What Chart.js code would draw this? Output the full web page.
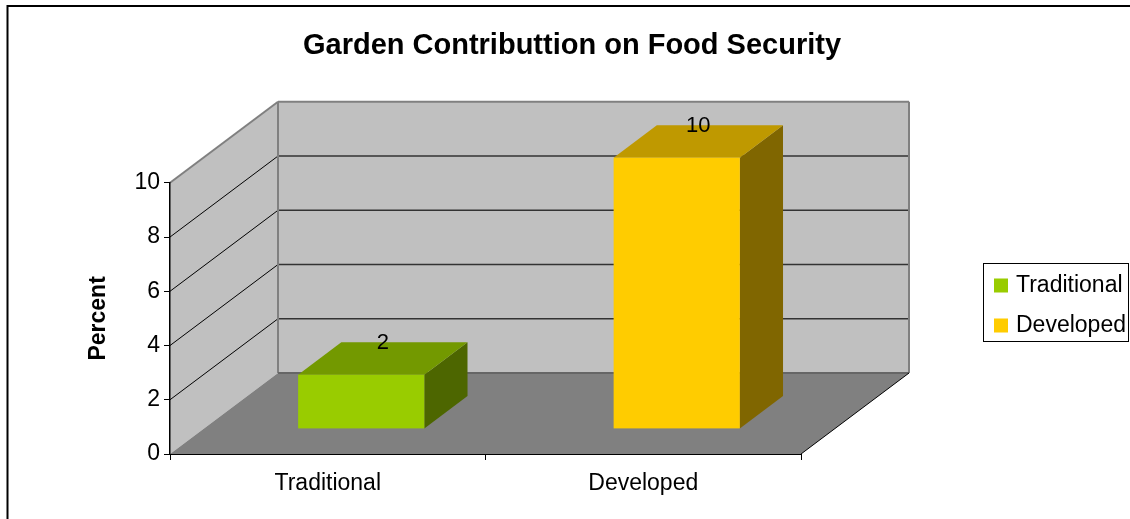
<!DOCTYPE html>
<html lang="en">
<head>
    <meta charset="UTF-8">
    <title>Garden Contributtion on Food Security</title>
    <script src="https://cdn.jsdelivr.net/npm/chart.js"></script>
    <style>
        body { margin: 0; background: #fff; }
        .box_chart { width: 1130px; height: 519px; }
    </style>
</head>
<body>
    <div class="box_chart">
        <canvas id="gardenChart" width="1130" height="519"></canvas>
    </div>

    <script>
        // data
        const categories = ['Traditional', 'Developed'];
        const percentValues = [2, 10];
        const yTicks = [0, 2, 4, 6, 8, 10];

        // colours of the 3d boxes (front, top, side)
        const frontColors = ['#99cc00', '#ffcc00'];
        const topColors = ['#739900', '#bf9900'];
        const sideColors = ['#4d6600', '#806600'];

        const FONT = "'Liberation Sans', Arial, sans-serif";
        const depth = { x: 108, y: -81 };   // depth of the walls
        const barStart = 0.31, barDepth = 0.4;

        function poly(ctx, pts, fill) {
            ctx.beginPath();
            ctx.moveTo(pts[0][0], pts[0][1]);
            for (let i = 1; i < pts.length; i++) ctx.lineTo(pts[i][0], pts[i][1]);
            ctx.closePath();
            ctx.fillStyle = fill;
            ctx.fill();
        }

        function line(ctx, x1, y1, x2, y2, color, w) {
            ctx.beginPath();
            ctx.moveTo(x1, y1);
            ctx.lineTo(x2, y2);
            ctx.strokeStyle = color;
            ctx.lineWidth = w;
            ctx.stroke();
        }

        const walls3d = {
            id: 'walls3d',
            beforeDraw(chart) {
                const ctx = chart.ctx;
                const { left, right, top, bottom } = chart.chartArea;
                const yScale = chart.scales.y;
                const bx = left + depth.x, rx = right + depth.x;
                const ty = top + depth.y, by = bottom + depth.y;
                ctx.save();
                // moldura
                ctx.strokeStyle = '#000';
                ctx.lineWidth = 2;
                ctx.strokeRect(7.5, 6, chart.width + 20, chart.height + 20);

                poly(ctx, [[left, top], [bx, ty], [bx, by], [left, bottom]], '#c0c0c0');
                poly(ctx, [[bx, ty], [rx, ty], [rx, by], [bx, by]], '#c0c0c0');
                poly(ctx, [[left, bottom], [bx, by], [rx, by], [right, bottom]], '#808080');

                // grid on side and back wall
                yTicks.forEach(v => {
                    const py = yScale.getPixelForValue(v);
                    if (v > yScale.min && v < yScale.max) {
                        line(ctx, left, py, bx, py + depth.y, '#000', 1);
                        line(ctx, bx, py + depth.y, rx, py + depth.y, '#333', 1.5);
                    }
                });

                // wall edges
                line(ctx, left, top, bx, ty, '#808080', 2);
                line(ctx, bx, ty, rx, ty, '#808080', 2);
                line(ctx, rx, ty, rx, by, '#808080', 2);
                line(ctx, bx, ty, bx, by, '#808080', 2);
                line(ctx, bx, by, rx, by, '#666', 2);
                line(ctx, right, bottom, rx, by, '#000', 1);
                ctx.restore();
            },
            beforeDatasetsDraw(chart) {
                const ctx = chart.ctx;
                const meta = chart.getDatasetMeta(0);
                const ox = depth.x * barStart, oy = depth.y * barStart;
                const dx = depth.x * barDepth, dy = depth.y * barDepth;
                ctx.save();
                meta.data.forEach((b, i) => {
                    const x0 = b.x - b.width / 2 + ox, x1 = b.x + b.width / 2 + ox;
                    const yt = b.y + oy, yb = b.base + oy;
                    poly(ctx, [[x1, yt], [x1 + dx, yt + dy], [x1 + dx, yb + dy], [x1, yb]], sideColors[i]);
                    poly(ctx, [[x0, yt], [x0 + dx, yt + dy], [x1 + dx, yt + dy], [x1, yt]], topColors[i]);
                    ctx.fillStyle = frontColors[i];
                    ctx.fillRect(x0, yt, x1 - x0, yb - yt);

                    ctx.fillStyle = '#000';
                    ctx.font = '22px ' + FONT;
                    ctx.textAlign = 'center';
                    ctx.textBaseline = 'middle';
                    ctx.fillText(String(percentValues[i]), b.x + ox + dx / 2, yt + dy + 1);
                });
                ctx.restore();
                return false;
            },
            afterDraw(chart) {
                // legenda
                const ctx = chart.ctx;
                ctx.save();
                ctx.strokeStyle = '#000';
                ctx.lineWidth = 1;
                ctx.strokeRect(983.5, 263.5, 145, 78);
                ctx.font = '23px ' + FONT;
                ctx.textAlign = 'left';
                ctx.textBaseline = 'middle';
                categories.forEach((c, i) => {
                    const cy = 285.5 + i * 40;
                    ctx.fillStyle = frontColors[i];
                    ctx.fillRect(994, cy - 7, 14, 14);
                    ctx.fillStyle = '#000';
                    ctx.fillText(c, 1016, cy);
                });
                ctx.restore();
            }
        };

        const ctx = document.getElementById('gardenChart').getContext('2d');
        new Chart(ctx, {
            type: 'bar',
            data: {
                labels: categories,
                datasets: [{
                    label: 'Percent',
                    data: percentValues,
                    backgroundColor: frontColors,
                    categoryPercentage: 1,
                    barPercentage: 0.4
                }]
            },
            options: {
                responsive: false,
                animation: false,
                devicePixelRatio: 1,
                layout: { padding: { left: 14, right: 0, top: 0, bottom: 15 } },
                plugins: {
                    legend: { display: false },
                    tooltip: { enabled: false },
                    title: {
                        display: true,
                        text: 'Garden Contributtion on Food Security',
                        color: '#000',
                        font: { family: FONT, size: 29, weight: 'bold' },
                        padding: { top: 29, bottom: 119 }
                    }
                },
                scales: {
                    x: {
                        afterFit: s => { s.height = 50; },
                        grid: { offset: true, drawOnChartArea: false, tickLength: 6, color: '#000' },
                        border: { color: '#000', width: 1 },
                        ticks: { color: '#000', padding: 10, font: { family: FONT, size: 23 } }
                    },
                    y: {
                        min: 0,
                        max: 10,
                        afterFit: s => { s.width = 156; },
                        afterBuildTicks: s => { s.ticks = yTicks.map(v => ({ value: v })); },
                        grid: { drawOnChartArea: false, tickLength: 6, color: '#000' },
                        border: { color: '#000', width: 1.5 },
                        ticks: { color: '#000', padding: 4, font: { family: FONT, size: 23 } },
                        title: {
                            display: true,
                            text: 'Percent',
                            color: '#000',
                            padding: { top: 71 },
                            font: { family: FONT, size: 23, weight: 'bold' }
                        }
                    },
                    // empty space on the right, where the legend sits
                    spacer: {
                        type: 'linear',
                        position: 'right',
                        afterFit: s => { s.width = 329; },
                        grid: { display: false },
                        border: { display: false },
                        ticks: { display: false }
                    }
                }
            },
            plugins: [walls3d]
        });
    </script>
</body>
</html>
